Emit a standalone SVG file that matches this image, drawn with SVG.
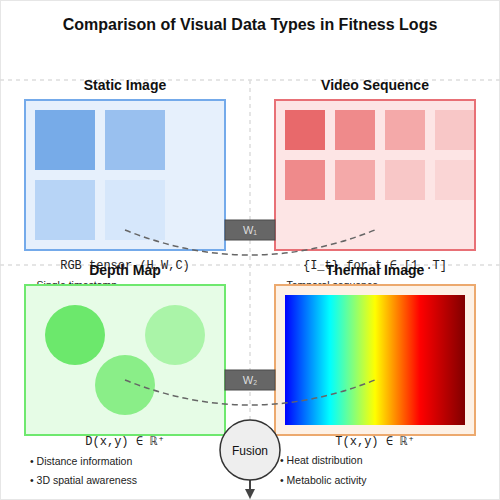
<svg xmlns="http://www.w3.org/2000/svg" width="500" height="500" viewBox="0 0 500 500">
<style>
.title{font-family:"Liberation Sans",Arial,sans-serif;font-size:16px;font-weight:bold;fill:#111;text-anchor:middle}
.sec{font-family:"Liberation Sans",Arial,sans-serif;font-size:14px;font-weight:bold;fill:#111;text-anchor:middle}
.mono{font-family:"Liberation Mono","Courier New",monospace;font-size:12px;fill:#222;text-anchor:middle}
.bul{font-family:"Liberation Sans",Arial,sans-serif;font-size:10.5px;fill:#222}
.grid{stroke:#ddd;stroke-width:1.5;stroke-dasharray:4,4;fill:none}
.wbox{fill:#666;stroke:#4a4a4a;stroke-width:1}
.wtxt{font-family:"Liberation Sans",Arial,sans-serif;font-size:11px;fill:#ddd;text-anchor:middle}
.conn{fill:none;stroke:#666;stroke-width:1.5;stroke-dasharray:6,4}
</style>
<defs>
<linearGradient id="jet" x1="0" y1="0" x2="1" y2="0">
<stop offset="0" stop-color="#0000ff"/>
<stop offset="0.25" stop-color="#00ffff"/>
<stop offset="0.5" stop-color="#ffff00"/>
<stop offset="0.75" stop-color="#ff0000"/>
<stop offset="1" stop-color="#800000"/>
</linearGradient>
<marker id="arr" markerWidth="10" markerHeight="10" refX="5" refY="5" orient="auto" markerUnits="userSpaceOnUse">
<path d="M0,0 L10,5 L0,10 Z" fill="#444"/>
</marker>
</defs>
<rect x="0" y="0" width="500" height="500" fill="#fff" stroke="#e6e6e6" stroke-width="2"/>
<g id="grid">
<line class="grid" x1="0" y1="80" x2="500" y2="80"/>
<line class="grid" x1="0" y1="265" x2="500" y2="265"/>
<line class="grid" x1="250" y1="80" x2="250" y2="500"/>
</g>
<text class="title" x="250" y="30">Comparison of Visual Data Types in Fitness Logs</text>

<g id="static-image">
<text class="sec" x="125" y="90">Static Image</text>
<rect x="25" y="100" width="200" height="150" fill="#e6f0fc" stroke="#74aaea" stroke-width="2"/>
<rect x="35" y="110" width="60" height="60" fill="#77abe8"/>
<rect x="105" y="110" width="60" height="60" fill="#99c0ef"/>
<rect x="35" y="180" width="60" height="60" fill="#b7d4f6"/>
<rect x="105" y="180" width="60" height="60" fill="#d6e7fb"/>
<text class="mono" x="125" y="269">RGB tensor (H,W,C)</text>
<text class="bul" x="30" y="289">• Single timestamp</text>
</g>

<g id="video-sequence">
<text class="sec" x="375" y="90">Video Sequence</text>
<rect x="275" y="100" width="200" height="150" fill="#fde5e5" stroke="#e87076" stroke-width="2"/>
<rect x="285" y="110" width="40" height="40" fill="#e8696b"/>
<rect x="335" y="110" width="40" height="40" fill="#ef8a8b"/>
<rect x="385" y="110" width="40" height="40" fill="#f4a9a9"/>
<rect x="435" y="110" width="39" height="40" fill="#f8c7c7"/>
<rect x="285" y="160" width="40" height="40" fill="#ef8a8b"/>
<rect x="335" y="160" width="40" height="40" fill="#f4a9a9"/>
<rect x="385" y="160" width="40" height="40" fill="#f8c7c7"/>
<rect x="435" y="160" width="39" height="40" fill="#fad5d5"/>
<text class="mono" x="375" y="269">{I_t} for t ∈ [1..T]</text>
<text class="bul" x="280" y="289">• Temporal sequence</text>
</g>

<g id="depth-map">
<text class="sec" x="125" y="275">Depth Map</text>
<rect x="25" y="285" width="200" height="150" fill="#e6fce6" stroke="#6ee86e" stroke-width="2"/>
<circle cx="75" cy="335" r="30" fill="#6ce86c"/>
<circle cx="175" cy="335" r="30" fill="#aaf4a8"/>
<circle cx="125" cy="385" r="30" fill="#8aee88"/>
<text class="mono" x="125" y="445">D(x,y) ∈ ℝ⁺</text>
<text class="bul" x="30" y="465">• Distance information</text>
<text class="bul" x="30" y="484">• 3D spatial awareness</text>
</g>

<g id="thermal-image">
<text class="sec" x="375" y="275">Thermal Image</text>
<rect x="275" y="285" width="200" height="150" fill="#fdf1e6" stroke="#eca96e" stroke-width="2"/>
<rect x="285" y="295" width="180" height="130" fill="url(#jet)"/>
<text class="mono" x="375" y="445">T(x,y) ∈ ℝ⁺</text>
<text class="bul" x="280" y="464">• Heat distribution</text>
<text class="bul" x="280" y="484">• Metabolic activity</text>
</g>

<g id="weight-1">
<rect class="wbox" x="225" y="220" width="50" height="20"/>
<text class="wtxt" x="250" y="234">W₁</text>
</g>
<g id="weight-2">
<rect class="wbox" x="225" y="370" width="50" height="20"/>
<text class="wtxt" x="250" y="384">W₂</text>
</g>

<g id="connectors">
<path class="conn" d="M125,230 Q250,280 375,230"/>
<path class="conn" d="M125,380 Q250,430 375,380"/>
<line x1="250" y1="480" x2="250" y2="494" stroke="#444" stroke-width="2" marker-end="url(#arr)"/>
</g>

<g id="fusion">
<circle cx="250" cy="450" r="30" fill="#eee" stroke="#333" stroke-width="1.5"/>
<text x="250" y="455" font-family="'Liberation Sans',Arial,sans-serif" font-size="12" fill="#111" text-anchor="middle">Fusion</text>
</g>
</svg>
